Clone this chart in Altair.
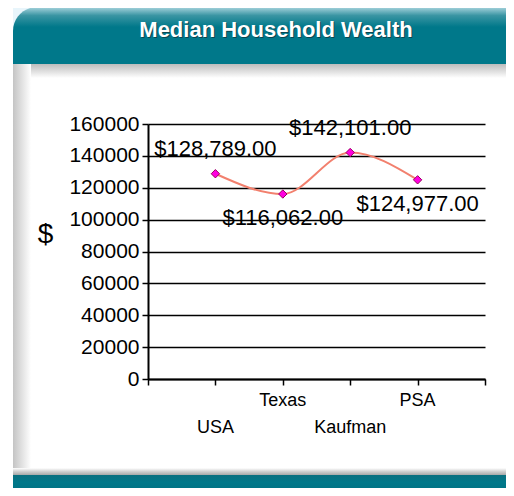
import altair as alt
import pandas as pd

# ---- data ----
categories = ["USA", "Texas", "Kaufman", "PSA"]
values = [128789, 116062, 142101, 124977]
y_ticks = [0, 20000, 40000, 60000, 80000, 100000, 120000, 140000, 160000]
x_ticks = [0, 1, 2, 3, 4, 5]
title_text = "Median Household Wealth"
y_title = "$"

df = pd.DataFrame({"category": categories, "value": values,
                   "pos": list(range(1, len(categories) + 1))})
df["row"] = (df["pos"] - 1) % 2

# ---- layout (page pixels) ----
OX, OY = 148, 124          # plot origin on the page
W, H = 337, 255            # plot area
TOTAL_W, TOTAL_H = 498, 480


def px(x):
    return x - OX


def py(y):
    return y - OY


FONT = "Liberation Sans"
TEAL = "#00788a"

one = alt.Data(values=[{"k": 0}])


def panel(x1, y1, x2, y2, color, **kw):
    return alt.Chart(one).mark_rect(color=color, **kw).encode(
        x=alt.value(px(x1)), x2=alt.value(px(x2)),
        y=alt.value(py(y1)), y2=alt.value(py(y2)))


def vgrad(stops):
    return alt.Gradient(gradient="linear", x1=0, x2=0, y1=0, y2=1,
                        stops=[alt.GradientStop(color=c, offset=o) for o, c in stops])


def hgrad(stops):
    return alt.Gradient(gradient="linear", x1=0, x2=1, y1=0, y2=0,
                        stops=[alt.GradientStop(color=c, offset=o) for o, c in stops])


corner_bg = panel(13, 7, 514, 40, "#e8f5fb")
header = panel(13, 7, 514, 64, vgrad([(0, "#a9d5de"), (0.15, "#3a95a3"),
                                       (0.35, TEAL), (1, "#00788a")]),
               cornerRadiusTopLeft=24)
top_shadow = panel(13, 64, 514, 78, vgrad([(0, "#bcbcbc"), (1, "#ffffff")]))
left_shadow = panel(13, 64, 31, 470, hgrad([(0, "#c4c4c4"), (1, "#ffffff")]))
foot_line = panel(13, 468, 514, 475, vgrad([(0, "#ffffff"), (0.5, "#d0d0d0"), (1, "#a8a8a8")]))
footer = panel(13, 475, 514, 500, vgrad([(0, "#0a6f7f"), (0.3, TEAL), (1, "#006b7c")]),
               cornerRadiusBottomLeft=22)

title_shadow = alt.Chart(one).mark_text(
    text=title_text, font=FONT, fontSize=22, fontWeight="bold", color="#0b4650",
    align="center", baseline="middle").encode(x=alt.value(px(276) + 1), y=alt.value(py(30) + 1))
title = alt.Chart(one).mark_text(
    text=title_text, font=FONT, fontSize=22, fontWeight="bold", color="white",
    align="center", baseline="middle").encode(x=alt.value(px(276)), y=alt.value(py(30)))

# ---- scales / axes ----
x_enc = alt.X("pos:Q", scale=alt.Scale(domain=[0, 5], nice=False, zero=False),
              axis=alt.Axis(values=x_ticks, labels=False, grid=False, title=None,
                            tickSize=6, tickColor="black", tickWidth=1.5,
                            domainColor="black", domainWidth=2))
y_enc = alt.Y("value:Q", scale=alt.Scale(domain=[0, 160000], nice=False),
              axis=alt.Axis(values=y_ticks, format="d", grid=True, gridColor="black",
                            gridWidth=1.6, gridOpacity=1, tickSize=6, tickColor="black",
                            tickWidth=1.5, domainColor="black", domainWidth=2,
                            labelFont=FONT, labelFontSize=21, labelColor="black",
                            labelPadding=3,
                            title=y_title, titleAngle=0, titleFont=FONT, titleFontSize=28,
                            titleFontWeight="normal", titleColor="black",
                            titleX=px(45), titleY=py(234), titleAlign="center",
                            titleBaseline="middle"))

base = alt.Chart(df)

line = base.mark_line(interpolate="monotone", color="#f2806e", strokeWidth=2).encode(
    x=x_enc, y=y_enc, order="pos:Q")
points = base.mark_point(shape="diamond", filled=True, size=70, fill="#ff00e0",
                         stroke="#9a0060", strokeWidth=1, opacity=1).encode(x=x_enc, y=y_enc)

lab_above = base.transform_filter("datum.row == 0").mark_text(
    font=FONT, fontSize=22, color="black", baseline="middle", dy=-25).encode(
    x=x_enc, y=y_enc, text=alt.Text("value:Q", format="$,.2f"))
lab_below = base.transform_filter("datum.row == 1").mark_text(
    font=FONT, fontSize=22, color="black", baseline="middle", dy=24).encode(
    x=x_enc, y=y_enc, text=alt.Text("value:Q", format="$,.2f"))

cat_low = base.transform_filter("datum.row == 0").mark_text(
    font=FONT, fontSize=18, color="black", baseline="middle").encode(
    x=x_enc, y=alt.value(H + 49), text="category:N")
cat_high = base.transform_filter("datum.row == 1").mark_text(
    font=FONT, fontSize=18, color="black", baseline="middle").encode(
    x=x_enc, y=alt.value(H + 22), text="category:N")

chart = alt.layer(
    corner_bg, header, top_shadow, left_shadow, foot_line, footer, title_shadow, title,
    line, points, lab_above, lab_below, cat_low, cat_high
).properties(
    width=W, height=H,
    autosize=alt.AutoSizeParams(type="none"),
    padding={"left": OX - 8, "top": OY - 8,
             "right": TOTAL_W - (OX - 8) - W, "bottom": TOTAL_H - (OY - 8) - H},
    background="white",
).configure_view(stroke=None)

chart.save("out.html", embed_options={"renderer": "svg", "actions": False})
